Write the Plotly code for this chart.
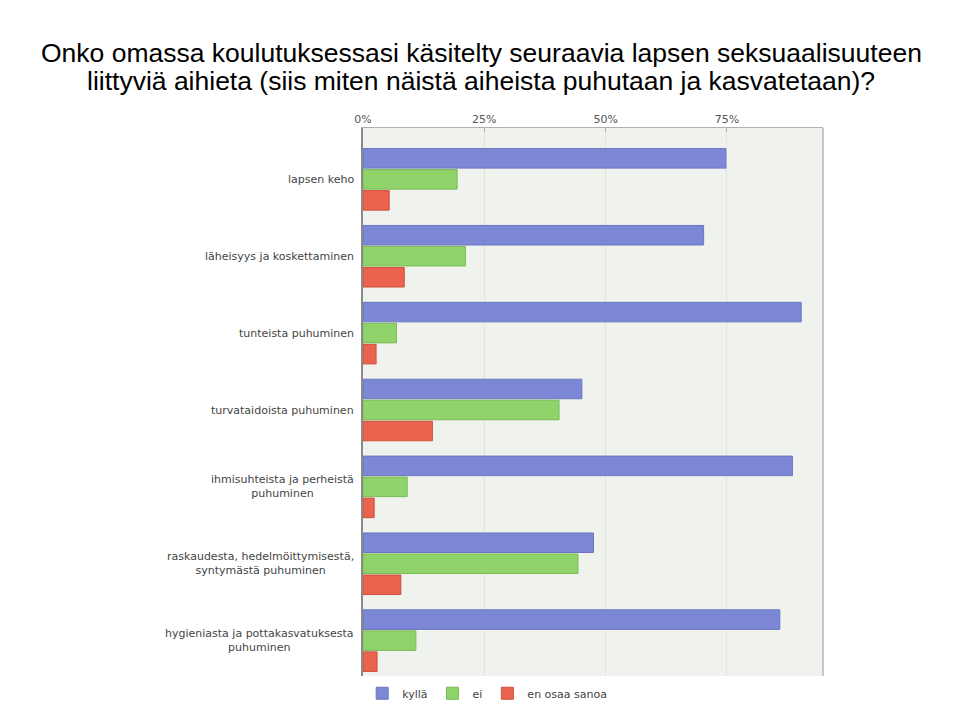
import plotly.graph_objects as go

categories = [
    "lapsen keho",
    "läheisyys ja koskettaminen",
    "tunteista puhuminen",
    "turvataidoista puhuminen",
    "ihmisuhteista ja perheistä<br>puhuminen",
    "raskaudesta, hedelmöittymisestä,<br>syntymästä puhuminen",
    "hygieniasta ja pottakasvatuksesta<br>puhuminen",
]
kylla = [74.8, 70.2, 90.3, 45.1, 88.5, 47.5, 85.9]
ei = [19.4, 21.1, 6.9, 40.4, 9.1, 44.3, 10.9]
en_osaa = [5.4, 8.5, 2.7, 14.3, 2.3, 7.8, 2.9]
series_names = ["kyllä", "ei", "en osaa sanoa"]
tick_vals = [0, 25, 50, 75]
tick_text = ["0%", "25%", "50%", "75%"]
title_lines = [
    "Onko omassa koulutuksessasi käsitelty seuraavia lapsen seksuaalisuuteen",
    "liittyviä aihieta (siis miten näistä aiheista puhutaan ja kasvatetaan)?",
]

colors = ["#7c88d6", "#8fd36a", "#ea634e"]
lines = ["#6b76c0", "#78bb55", "#cf4f3b"]
label_font = dict(family="DejaVu Sans, Verdana", size=11, color="#444444")

# plot area geometry (pixels)
L, R, T, B = 363, 823, 128, 683
W, H = 960, 720

fig = go.Figure()
for name, vals, c, lc in zip(series_names, [kylla, ei, en_osaa], colors, lines):
    fig.add_trace(go.Bar(
        y=categories, x=vals, name=name, orientation="h",
        marker=dict(color=c, line=dict(color=lc, width=1)),
    ))

for cat in categories:
    fig.add_annotation(
        x=-0.015, xref="paper", y=cat, yref="y",
        text=cat, showarrow=False, xanchor="right", yanchor="middle",
        align="center", font=label_font,
    )

for line_text, ypix in zip(title_lines, [52, 80]):
    fig.add_annotation(
        x=(481 - L) / (R - L), xref="paper",
        y=1 + (T - ypix) / (B - T), yref="paper",
        text=line_text, showarrow=False, xanchor="center", yanchor="middle",
        font=dict(family="Liberation Sans, Arial", size=26.5, color="black"),
    )

fig.add_shape(type="line", xref="paper", yref="paper", x0=1, x1=1, y0=0, y1=1,
              line=dict(color="#c8c8c8", width=2))

fig.update_layout(
    width=W, height=H,
    paper_bgcolor="white", plot_bgcolor="#f0f2ed",
    margin=dict(l=L, r=W - R, t=T, b=H - B),
    barmode="group", bargap=0.18, bargroupgap=0.07,
    legend=dict(orientation="h", x=0.27, xanchor="center", y=-0.005, yanchor="top",
                font=label_font, traceorder="normal", itemwidth=30,
                bgcolor="rgba(0,0,0,0)"),
    showlegend=True,
)
fig.update_xaxes(
    side="top", range=[0, 94.8], tickvals=tick_vals, ticktext=tick_text,
    showgrid=True, gridcolor="#e1e4dd", gridwidth=1,
    showline=True, linecolor="#b0b0b0", linewidth=1, mirror=False,
    ticks="inside", ticklen=4, tickcolor="#b0b0b0",
    tickfont=dict(family="DejaVu Sans, Verdana", size=11, color="#555555"),
    zeroline=False, fixedrange=True,
)
fig.update_yaxes(
    type="category", categoryorder="array", categoryarray=categories,
    range=[6.46, -0.668], showticklabels=False, ticks="",
    showline=True, linecolor="#8a8a8a", linewidth=2, mirror=False,
    showgrid=False, zeroline=False,
)

fig.write_html("out.html")
